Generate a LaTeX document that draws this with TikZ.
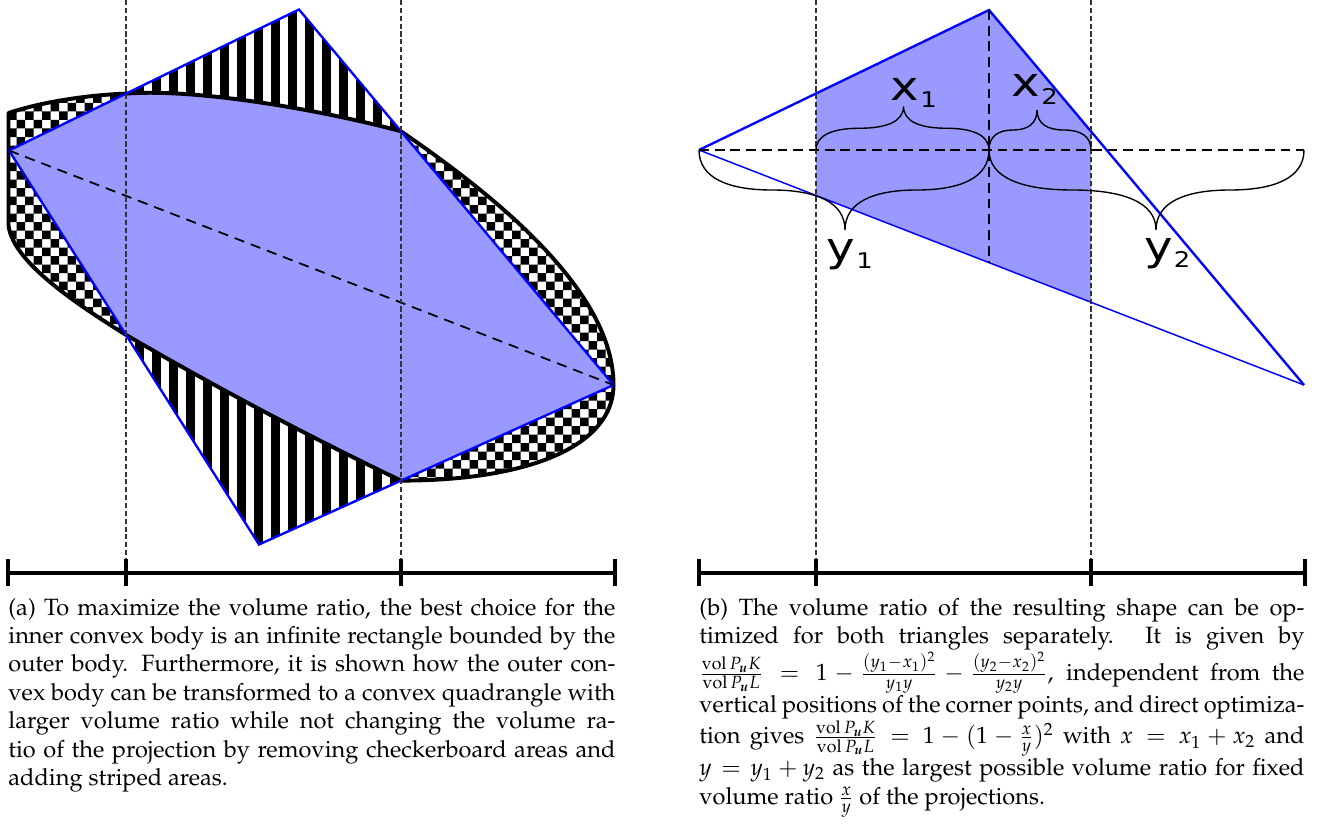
\documentclass[tikz,border=0pt]{standalone}
\usepackage{fontspec}
\newfontfamily\lblfont{DejaVu Sans}
\usepackage[T1]{fontenc}
\usepackage{mathpazo}
\usepackage{amsmath}
\usepackage{graphicx}
\usetikzlibrary{calc}
\definecolor{innerfill}{RGB}{153,153,255}
\tikzset{
  bodyline/.style={black, line width=2pt, line join=round},
  blueline/.style={blue, line width=1.2pt, line join=miter},
  thinblue/.style={blue, line width=0.75pt},
  diagdash/.style={black, line width=0.9pt, dash pattern=on 5.2pt off 3.6pt},
  finedash/.style={black!80, line width=0.6pt, dash pattern=on 2.6pt off 1.4pt},
  middash/.style={black, line width=0.7pt, dash pattern=on 5pt off 3pt},
  bracestroke/.style={black, line width=0.7pt},
  scalebar/.style={black, line width=1.6pt},
  lbl/.style={inner sep=0pt, anchor=base west},
  capnode/.style={inner sep=0pt, anchor=base west}
}
\newcommand{\mybrace}[5]{%
  \draw[bracestroke] (#1,#4) .. controls (#1,{#4+0.35*(#5)}) and ({#1+0.2*(#2-#1)},{#4+0.5*(#5)}) .. ({#1+0.5*(#2-#1)},{#4+0.5*(#5)})
    .. controls ({#1+0.8*(#2-#1)},{#4+0.5*(#5)}) and (#2,{#4+0.65*(#5)}) .. (#2,{#4+(#5)})
    .. controls (#2,{#4+0.65*(#5)}) and ({#2+0.2*(#3-#2)},{#4+0.5*(#5)}) .. ({#2+0.5*(#3-#2)},{#4+0.5*(#5)})
    .. controls ({#3-0.2*(#3-#2)},{#4+0.5*(#5)}) and (#3,{#4+0.35*(#5)}) .. (#3,#4);}
\newcommand{\lbltext}[2]{{\lblfont\fontsize{20.5pt}{24pt}\selectfont\scalebox{1.2}[1]{#1\kern0.4pt\raisebox{-3.7pt}{\fontsize{11pt}{12pt}\selectfont #2}}}}
\newcommand{\volfrac}{\frac{\operatorname{vol} P_{\boldsymbol{u}}K}{\operatorname{vol} P_{\boldsymbol{u}}L}}
\begin{document}
\begin{tikzpicture}[x=0.509pt,y=-0.509pt]
\useasboundingbox (0,0) rectangle (1324,831);
% ---------- panel (a) ----------
\coordinate (L) at (9,150.5);
\coordinate (T) at (299,9.5);
\coordinate (R) at (613.5,385);
\coordinate (B) at (259,544.5);
\coordinate (A1) at (126,93.6);
\coordinate (A2) at (401,131.3);
\coordinate (A3) at (401,480.6);
\coordinate (A4) at (126,334.9);
\coordinate (K0) at (8.5,113);
\coordinate (K1) at (8.5,225);
\def\Kpath{(K0) .. controls (45,101) and (90,95) .. (A1) .. controls (200,88) and (330,112) .. (A2) .. controls (481,186.5) and (613.5,285) .. (R) .. controls (613.5,445) and (531,480.6) .. (A3) .. controls (306.9,435.5) and (215.5,387) .. (A4) .. controls (70,300) and (12,260) .. (K1) -- cycle}
\def\Qpath{(L) -- (T) -- (R) -- (B) -- cycle}
% stripes (added areas)
\begin{scope}
  \clip \Qpath;
  \clip (126,0) rectangle (401,560);
  \foreach \k in {-10,...,6} \fill[black] (288+17*\k,0) rectangle ++(8.5,560);
\end{scope}
% checkerboard (removed areas)
\begin{scope}
  \clip \Kpath;
  \fill[black, even odd rule] \foreach \i in {0,...,7} {(8+17*\i,86) rectangle +(8.5,260)}
     \foreach \j in {0,...,15} {(0,86+17*\j) rectangle +(136,8.5)};
  \fill[black, even odd rule] \foreach \i in {0,...,13} {(393+17*\i,120) rectangle +(8.5,375)}
     \foreach \j in {0,...,21} {(390,120+17*\j) rectangle +(240,8.5)};
\end{scope}
% inner body fill
\begin{scope}
  \clip (126,0) rectangle (401,560);
  \fill[innerfill] \Kpath;
\end{scope}
\begin{scope}
  \clip (0,0) rectangle (126,560) (401,0) rectangle (660,560);
  \fill[innerfill] \Qpath;
\end{scope}
\draw[bodyline] \Kpath;
\draw[blueline] \Qpath;
\draw[diagdash] (L) -- (R);
\coordinate (va1) at (126,0); \coordinate (va1b) at (126,559);
\coordinate (va2) at (401,0); \coordinate (va2b) at (401,559);
\draw[finedash] (va1) -- (va1b);
\draw[finedash] (va2) -- (va2b);
% scale bar (a)
\coordinate (sa0) at (8,573); \coordinate (sa1) at (126,573);
\coordinate (sa2) at (401,573); \coordinate (sa3) at (615,573);
\draw[scalebar] (sa0) -- (sa3);
\foreach \c in {sa0,sa1,sa2,sa3} \draw[scalebar] ($(\c)+(0,-14)$) -- ($(\c)+(0,13)$);
% ---------- panel (b) ----------
\coordinate (P) at (699,150);
\coordinate (Tb) at (989,10);
\coordinate (Rb) at (1304,385);
\coordinate (Mb) at (989,262.6);
\coordinate (Hb) at (1304,150);
\begin{scope}
  \clip (816,0) rectangle (1091,560);
  \fill[innerfill] (P) -- (Tb) -- (Rb) -- cycle;
\end{scope}
\draw[blueline] (Rb) -- (Tb) -- (P);
\draw[thinblue] (P) -- (Rb);
\draw[middash] (P) -- (Hb);
\draw[middash] (Tb) -- (Mb);
\coordinate (vb1) at (816,0); \coordinate (vb1b) at (816,559);
\coordinate (vb2) at (1091,0); \coordinate (vb2b) at (1091,559);
\draw[finedash] (vb1) -- (vb1b);
\draw[finedash] (vb2) -- (vb2b);
\mybrace{816}{903.5}{989}{150}{-43.5}
\mybrace{989}{1037}{1091}{150}{-40}
\mybrace{699}{845}{989}{150}{80}
\mybrace{989}{1156}{1304}{150}{80}
\node[lbl] (lx1) at (890.5,100.7) {\lbltext{x}{1}};
\node[lbl] (lx2) at (1011.5,97) {\lbltext{x}{2}};
\node[lbl] (ly1) at (826.5,261) {\lbltext{y}{1}};
\node[lbl] (ly2) at (1144,260) {\lbltext{y}{2}};
% scale bar (b)
\coordinate (sb0) at (699,573); \coordinate (sb1) at (816,573);
\coordinate (sb2) at (1091,573); \coordinate (sb3) at (1305,573);
\draw[scalebar] (sb0) -- (sb3);
\foreach \c in {sb0,sb1,sb2,sb3} \draw[scalebar] ($(\c)+(0,-14)$) -- ($(\c)+(0,13)$);
% ---------- captions ----------
\node[capnode] (capa) at (8,615) {\begin{minipage}[t]{309pt}\fontsize{12pt}{14.5pt}\selectfont
(a) To maximize the volume ratio, the best choice for the\linebreak
inner convex body is an infinite rectangle bounded by the\linebreak
outer body. Furthermore, it is shown how the outer con-\linebreak
vex body can be transformed to a convex quadrangle with\linebreak
larger volume ratio while not changing the volume ra-\linebreak
tio of the projection by removing checkerboard areas and\linebreak
adding striped areas.
\end{minipage}};
\node[capnode] (capb) at (699,615) {\begin{minipage}[t]{308pt}\fontsize{12pt}{14.5pt}\selectfont
(b) The volume ratio of the resulting shape can be op-\linebreak
timized for both triangles separately. It is given by\linebreak
$\volfrac = 1 - \frac{(y_1-x_1)^2}{y_1y} - \frac{(y_2-x_2)^2}{y_2y}$, independent from the\linebreak
vertical positions of the corner points, and direct optimiza-\linebreak
tion gives $\volfrac = 1-(1-\frac{x}{y})^2$ with $x = x_1+x_2$ and\linebreak
$y = y_1+y_2$ as the largest possible volume ratio for fixed\linebreak
volume ratio $\frac{x}{y}$ of the projections.
\end{minipage}};
\end{tikzpicture}
\end{document}
